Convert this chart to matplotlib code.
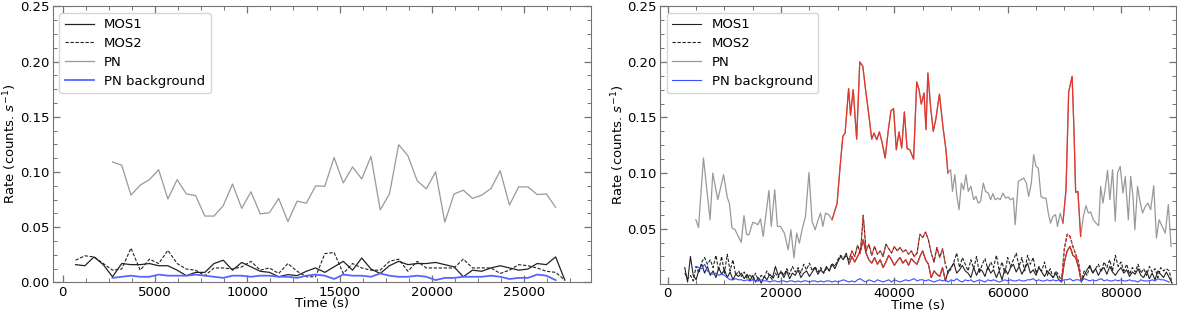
import numpy as np
import matplotlib.pyplot as plt
from matplotlib.ticker import AutoMinorLocator

plt.rcParams['font.family'] = ['DejaVu Sans']
plt.rcParams['font.size'] = 9.5

# ---------------- observation 1 (left) ----------------
# regular 500 s bins
mos_start_1, pn_start_1, bin_1 = 700, 2700, 500
mos1_1 = [0.016, 0.015, 0.023, 0.016, 0.005, 0.017, 0.016, 0.016, 0.017, 0.015,
          0.015, 0.011, 0.006, 0.009, 0.009, 0.017, 0.020, 0.011, 0.018, 0.014,
          0.010, 0.009, 0.005, 0.007, 0.006, 0.010, 0.013, 0.009, 0.014, 0.019,
          0.011, 0.022, 0.012, 0.008, 0.015, 0.019, 0.016, 0.017, 0.017, 0.018,
          0.016, 0.014, 0.005, 0.011, 0.010, 0.013, 0.015, 0.013, 0.011, 0.012,
          0.017, 0.016, 0.023, 0.002]
mos2_1 = [0.020, 0.024, 0.023, 0.017, 0.011, 0.012, 0.031, 0.011, 0.021, 0.017,
          0.029, 0.017, 0.012, 0.011, 0.006, 0.013, 0.013, 0.012, 0.014, 0.019,
          0.011, 0.013, 0.008, 0.017, 0.010, 0.005, 0.005, 0.026, 0.027, 0.008,
          0.017, 0.013, 0.011, 0.011, 0.019, 0.021, 0.010, 0.019, 0.013, 0.013,
          0.013, 0.013, 0.021, 0.013, 0.013, 0.013, 0.008, 0.011, 0.016, 0.015,
          0.013, 0.010, 0.009, 0.002]
pn_1 = [0.109, 0.106, 0.079, 0.088, 0.093, 0.102, 0.0755, 0.093, 0.080, 0.0786,
        0.060, 0.060, 0.0695, 0.089, 0.067, 0.082, 0.062, 0.063, 0.076, 0.055,
        0.0735, 0.0716, 0.0873, 0.087, 0.113, 0.090, 0.1045, 0.0936, 0.114, 0.0656,
        0.080, 0.1246, 0.1147, 0.092, 0.0846, 0.100, 0.0545, 0.080, 0.0834, 0.076,
        0.079, 0.085, 0.101, 0.070, 0.0864, 0.0864, 0.0795, 0.080, 0.068]
pnbkg_1 = [0.004, 0.005, 0.006, 0.005, 0.005, 0.007, 0.006, 0.006, 0.006, 0.007,
           0.006, 0.005, 0.004, 0.006, 0.006, 0.005, 0.006, 0.006, 0.005, 0.005,
           0.004, 0.006, 0.007, 0.006, 0.003, 0.007, 0.006, 0.006, 0.005, 0.008,
           0.006, 0.005, 0.005, 0.006, 0.005, 0.002, 0.004, 0.004, 0.005, 0.005,
           0.005, 0.006, 0.005, 0.003, 0.004, 0.004, 0.007, 0.006, 0.002]

# ---------------- observation 2 (right) ----------------
mos_start_2, pnbkg_start_2, bin_2 = 3000, 5000, 500
mos1_2 = [0.015, 0.002, 0.025, 0.008, 0.004, 0.013, 0.018, 0.010, 0.016, 0.008,
          0.012, 0.006, 0.015, 0.009, 0.013, 0.006, 0.011, 0.004, 0.009, 0.007,
          0.010, 0.005, 0.009, 0.003, 0.008, 0.002, 0.006, 0.001, 0.007, 0.004,
          0.009, 0.006, 0.016, 0.008, 0.011, 0.006, 0.012, 0.005, 0.010, 0.008,
          0.013, 0.006, 0.010, 0.012, 0.007, 0.011, 0.015, 0.009, 0.013, 0.010,
          0.016, 0.012, 0.018, 0.014, 0.020, 0.025, 0.022, 0.028, 0.018, 0.025,
          0.020, 0.025, 0.030, 0.040, 0.028, 0.022, 0.019, 0.024, 0.018, 0.022,
          0.015, 0.020, 0.026, 0.022, 0.017, 0.021, 0.024, 0.019, 0.022, 0.017,
          0.023, 0.020, 0.018, 0.025, 0.030, 0.022, 0.018, 0.006, 0.012, 0.009,
          0.007, 0.015, 0.003, 0.012, 0.015, 0.019, 0.010, 0.013, 0.017, 0.012,
          0.010, 0.006, 0.015, 0.008, 0.014, 0.012, 0.007, 0.016, 0.010, 0.013,
          0.006, 0.012, 0.004, 0.014, 0.009, 0.015, 0.018, 0.011, 0.016, 0.009,
          0.014, 0.019, 0.010, 0.013, 0.008, 0.015, 0.011, 0.007, 0.012, 0.009,
          0.006, 0.010, 0.004, 0.002, 0.020, 0.030, 0.034, 0.026, 0.024, 0.015,
          0.002, 0.008, 0.013, 0.017, 0.010, 0.014, 0.008, 0.013, 0.015, 0.009,
          0.016, 0.011, 0.008, 0.012, 0.015, 0.010, 0.013, 0.007, 0.011, 0.009,
          0.014, 0.008, 0.006, 0.012, 0.005, 0.010, 0.004, 0.012, 0.009, 0.006,
          0.011, 0.006, 0.001]
mos2_2 = [0.010, 0.005, 0.008, 0.003, 0.016, 0.010, 0.020, 0.024, 0.018, 0.022,
          0.015, 0.026, 0.012, 0.025, 0.010, 0.027, 0.012, 0.022, 0.008, 0.012,
          0.007, 0.011, 0.005, 0.009, 0.004, 0.010, 0.003, 0.008, 0.006, 0.012,
          0.007, 0.004, 0.010, 0.006, 0.012, 0.008, 0.014, 0.009, 0.016, 0.011,
          0.015, 0.010, 0.018, 0.013, 0.019, 0.012, 0.016, 0.011, 0.015, 0.010,
          0.014, 0.012, 0.019, 0.016, 0.022, 0.026, 0.024, 0.025, 0.022, 0.030,
          0.025, 0.035, 0.028, 0.062, 0.030, 0.036, 0.026, 0.034, 0.027, 0.030,
          0.025, 0.036, 0.032, 0.028, 0.034, 0.030, 0.033, 0.029, 0.031, 0.027,
          0.030, 0.025, 0.028, 0.045, 0.042, 0.047, 0.040, 0.028, 0.020, 0.033,
          0.024, 0.032, 0.018, 0.010, 0.014, 0.020, 0.028, 0.015, 0.024, 0.018,
          0.012, 0.022, 0.014, 0.025, 0.010, 0.018, 0.023, 0.013, 0.020, 0.015,
          0.026, 0.012, 0.020, 0.010, 0.024, 0.016, 0.022, 0.028, 0.016, 0.024,
          0.012, 0.026, 0.018, 0.024, 0.010, 0.016, 0.012, 0.020, 0.008, 0.014,
          0.006, 0.012, 0.008, 0.003, 0.032, 0.045, 0.043, 0.034, 0.027, 0.020,
          0.003, 0.012, 0.008, 0.016, 0.010, 0.014, 0.018, 0.011, 0.020, 0.015,
          0.022, 0.012, 0.026, 0.016, 0.020, 0.012, 0.018, 0.009, 0.015, 0.011,
          0.018, 0.010, 0.014, 0.008, 0.016, 0.011, 0.014, 0.006, 0.015, 0.012,
          0.014, 0.012, 0.001]
pn_time_2 = [4960, 5430, 6300, 7470, 7950, 8830, 9850, 10530, 10870, 11340,
             11880, 12970, 13450, 13920, 14330, 15010, 15420, 15900, 16370, 16840,
             17860, 18270, 18880, 19350, 19890, 20580, 21260, 21730, 22270, 22750,
             23230, 23770, 24310, 24920, 25470, 26010, 26550, 26960, 27370, 27850,
             28390, 29000, 29880, 30420, 30900, 31300, 31580, 31920, 32260, 32730,
             33340, 33890, 34430, 34910, 35520, 36000, 36400, 36880, 37350, 37830,
             38370, 38910, 39390, 39860, 40340, 40810, 41290, 41760, 42240, 42720,
             43390, 43940, 44350, 44750, 45230, 45570, 45910, 46380, 46860, 47330,
             47950, 48560, 49100, 49440, 49920, 50250, 50660, 51000, 51410, 51820,
             52220, 52630, 53040, 53510, 53990, 54400, 54800, 55210, 55690, 56090,
             56570, 56980, 57380, 57790, 58270, 58680, 59150, 59630, 60100, 60510,
             60990, 61320, 61870, 62340, 62820, 63290, 63700, 64170, 64580, 64990,
             65400, 65870, 66280, 66760, 67160, 67570, 67980, 68450, 68790, 69270,
             69740, 70290, 70760, 71370, 71710, 71990, 72390, 72870, 73350, 73820,
             74230, 74640, 75110, 75580, 76060, 76400, 76810, 77220, 77620, 78030,
             78510, 78980, 79390, 79860, 80340, 80750, 81290, 81700, 82110, 82440,
             82920, 83400, 83800, 84280, 84760, 85230, 85770, 86250, 86720, 87270,
             87810, 88350, 88830]
pn_2 = [0.058, 0.051, 0.1135, 0.058, 0.100, 0.076, 0.0985, 0.0775, 0.073, 0.0506,
        0.049, 0.0377, 0.0617, 0.0446, 0.0446, 0.0557, 0.055, 0.0535, 0.0587, 0.043,
        0.0844, 0.052, 0.085, 0.052, 0.052, 0.046, 0.031, 0.049, 0.0237, 0.046,
        0.037, 0.0506, 0.061, 0.1006, 0.0566, 0.049, 0.058, 0.064, 0.052, 0.064,
        0.0626, 0.058, 0.0725, 0.106, 0.133, 0.136, 0.154, 0.176, 0.152, 0.175,
        0.1305, 0.200, 0.196, 0.175, 0.151, 0.1305, 0.136, 0.130, 0.137, 0.1275,
        0.1135, 0.138, 0.156, 0.158, 0.121, 0.137, 0.1225, 0.155, 0.122, 0.121,
        0.1125, 0.182, 0.175, 0.162, 0.172, 0.139, 0.190, 0.160, 0.1375, 0.149,
        0.171, 0.142, 0.121, 0.100, 0.103, 0.0835, 0.0985, 0.0805, 0.067, 0.091,
        0.085, 0.0985, 0.0835, 0.088, 0.076, 0.079, 0.073, 0.0745, 0.091, 0.0835,
        0.082, 0.076, 0.0815, 0.076, 0.0775, 0.076, 0.082, 0.0775, 0.0785, 0.076,
        0.0775, 0.0536, 0.0925, 0.094, 0.0955, 0.091, 0.079, 0.091, 0.1165, 0.106,
        0.1045, 0.079, 0.0775, 0.0775, 0.064, 0.055, 0.061, 0.0626, 0.052, 0.064,
        0.055, 0.085, 0.173, 0.187, 0.136, 0.0826, 0.0835, 0.043, 0.061, 0.0707,
        0.064, 0.065, 0.058, 0.055, 0.0527, 0.088, 0.073, 0.0865, 0.1024, 0.076,
        0.103, 0.0566, 0.100, 0.106, 0.082, 0.097, 0.058, 0.097, 0.079, 0.049,
        0.088, 0.073, 0.064, 0.070, 0.073, 0.067, 0.0886, 0.0416, 0.058, 0.052,
        0.046, 0.0716, 0.034]
pnbkg_2 = [0.016, 0.015, 0.014, 0.018, 0.012, 0.010, 0.009, 0.010, 0.008, 0.009,
           0.008, 0.006, 0.004, 0.004, 0.005, 0.004, 0.004, 0.003, 0.004, 0.003,
           0.004, 0.003, 0.003, 0.004, 0.003, 0.003, 0.002, 0.003, 0.003, 0.002,
           0.003, 0.003, 0.002, 0.003, 0.003, 0.002, 0.003, 0.002, 0.003, 0.003,
           0.002, 0.003, 0.003, 0.002, 0.003, 0.002, 0.003, 0.003, 0.002, 0.003,
           0.002, 0.003, 0.004, 0.003, 0.002, 0.003, 0.002, 0.004, 0.005, 0.003,
           0.002, 0.004, 0.003, 0.002, 0.004, 0.003, 0.002, 0.003, 0.004, 0.002,
           0.004, 0.003, 0.002, 0.003, 0.004, 0.003, 0.004, 0.005, 0.003, 0.004,
           0.004, 0.003, 0.004, 0.003, 0.002, 0.003, 0.004, 0.003, 0.004, 0.002,
           0.004, 0.003, 0.005, 0.003, 0.002, 0.004, 0.003, 0.004, 0.002, 0.003,
           0.004, 0.003, 0.002, 0.004, 0.003, 0.004, 0.003, 0.002, 0.003, 0.004,
           0.003, 0.004, 0.003, 0.003, 0.004, 0.003, 0.003, 0.004, 0.004, 0.005,
           0.003, 0.004, 0.003, 0.003, 0.004, 0.003, 0.004, 0.003, 0.004, 0.003,
           0.004, 0.004, 0.005, 0.003, 0.004, 0.004, 0.003, 0.005, 0.004, 0.003,
           0.004, 0.003, 0.004, 0.005, 0.003, 0.004, 0.003, 0.003, 0.004, 0.003,
           0.004, 0.003, 0.003, 0.004, 0.003, 0.003, 0.002, 0.004, 0.003, 0.003,
           0.003, 0.004, 0.003, 0.005, 0.004, 0.004, 0.003, 0.002]
# flaring intervals (s)
pn_flares = [(29000, 49440), (69740, 72870)]
mos_flares = [(32000, 49000), (69500, 73000)]

FLARE = '#e6352b'


def plot_lc(ax, t, rate, color, ls, lw, label, flares=(), alpha=1.0):
    t = np.asarray(t, dtype=float)
    rate = np.asarray(rate, dtype=float)
    ax.plot(t, rate, color=color, ls=ls, lw=lw, alpha=alpha, label=label)
    for lo, hi in flares:
        m = (t >= lo) & (t <= hi)
        ax.plot(t[m], rate[m], color=FLARE, ls=ls, lw=lw)


def style(ax):
    ax.xaxis.set_minor_locator(AutoMinorLocator(4))
    ax.yaxis.set_minor_locator(AutoMinorLocator(4))
    ax.tick_params(which='both', direction='in', top=True, right=True,
                   color='0.45', pad=2.5)
    ax.tick_params(which='major', length=5, width=0.9)
    ax.tick_params(which='minor', length=3, width=0.7)
    for s in ax.spines.values():
        s.set_color('0.45')
    ax.set_xlabel('Time (s)', labelpad=-1)
    ax.set_ylabel(r'Rate (counts. $s^{-1}$)', labelpad=0.5)
    ax.legend(loc='upper left', fontsize=9.5, handlelength=2.2,
              labelspacing=0.45, handletextpad=0.8)


fig = plt.figure(figsize=(12, 3.15), dpi=100)
ax1 = fig.add_axes([0.0439, 0.1038, 0.4488, 0.8762])
ax2 = fig.add_axes([0.5503, 0.0994, 0.4295, 0.8806])

t_mos_1 = mos_start_1 + bin_1 * np.arange(len(mos1_1))
t_pn_1 = pn_start_1 + bin_1 * np.arange(len(pn_1))
plot_lc(ax1, t_mos_1, mos1_1, '#222222', '-', 0.9, 'MOS1')
plot_lc(ax1, t_mos_1, mos2_1, '#222222', (0, (3, 1.5)), 0.8, 'MOS2')
plot_lc(ax1, t_pn_1, pn_1, '#999999', '-', 0.9, 'PN')
plot_lc(ax1, t_pn_1, pnbkg_1, '#5567ff', '-', 1.3, 'PN background')
ax1.set_xlim(-540, 28630)
ax1.set_ylim(0, 0.25)
style(ax1)

t_mos_2 = mos_start_2 + bin_2 * np.arange(len(mos1_2))
t_bkg_2 = pnbkg_start_2 + bin_2 * np.arange(len(pnbkg_2))
plot_lc(ax2, t_mos_2, mos1_2, '#222222', '-', 0.8, 'MOS1', mos_flares)
plot_lc(ax2, t_mos_2, mos2_2, '#222222', (0, (3, 1.5)), 0.8, 'MOS2', mos_flares)
plot_lc(ax2, pn_time_2, pn_2, '#999999', '-', 0.9, 'PN', pn_flares)
plot_lc(ax2, t_bkg_2, pnbkg_2, '#3a4cff', '-', 0.8, 'PN background')
ax2.set_xlim(-1306, 89660)
ax2.set_ylim(0.0005, 0.25)
style(ax2)

plt.savefig('out.png', dpi=100)
